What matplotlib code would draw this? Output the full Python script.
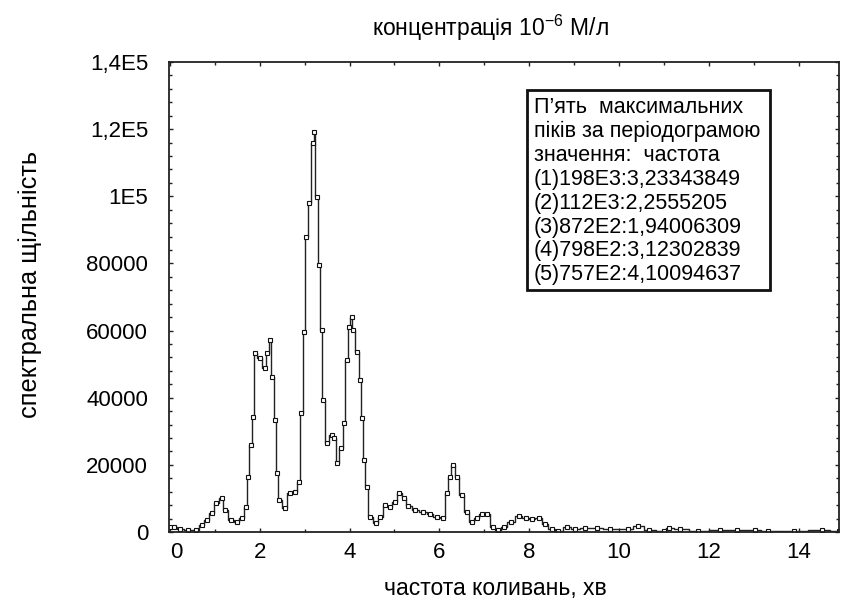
import matplotlib
matplotlib.use("Agg")
import matplotlib.pyplot as plt
from matplotlib.ticker import MultipleLocator, FixedLocator
from matplotlib.patches import Rectangle

plt.rcParams['font.family'] = ['Liberation Sans', 'DejaVu Sans']
plt.rcParams['mathtext.fontset'] = 'custom'
plt.rcParams['mathtext.rm'] = 'Liberation Sans'
plt.rcParams['mathtext.it'] = 'Liberation Sans'

# spectral density vs frequency
freq = [0.00, 0.10, 0.22, 0.40, 0.59, 0.71, 0.82, 0.93, 1.02, 1.15, 1.22, 1.35, 1.49, 1.60,
        1.69, 1.74, 1.80, 1.85, 1.89, 2.00, 2.12, 2.17, 2.23, 2.28, 2.34, 2.39, 2.43, 2.56,
        2.67, 2.78, 2.88, 2.93, 2.98, 3.04, 3.10, 3.19, 3.21, 3.27, 3.32, 3.38, 3.41, 3.49,
        3.60, 3.65, 3.73, 3.82, 3.88, 3.94, 3.99, 4.05, 4.08, 4.17, 4.23, 4.28, 4.33, 4.38,
        4.45, 4.59, 4.68, 4.79, 4.90, 5.01, 5.11, 5.21, 5.31, 5.46, 5.64, 5.79, 5.94, 6.09,
        6.16, 6.24, 6.30, 6.39, 6.50, 6.61, 6.72, 6.83, 6.94, 7.06, 7.20, 7.30, 7.44, 7.59,
        7.78, 7.92, 8.07, 8.21, 8.36, 8.50, 8.65, 8.84, 9.03, 9.25, 9.51, 9.80, 10.20, 10.43,
        10.67, 11.00, 11.11, 11.35, 11.75, 12.24, 12.63, 13.02, 13.31, 13.89, 14.52, 14.90]
density = [1600, 1400, 900, 500, 600, 2100, 3600, 5600, 8600, 10100, 6500, 3600, 3100, 4100,
           7500, 16500, 25900, 34300, 53200, 51800, 48800, 53200, 57200, 46300, 33400, 17600, 9500, 7100,
           11600, 12000, 15000, 35400, 59700, 88000, 97900, 115800, 119200, 99900, 79500, 60200, 39300, 26400,
           28900, 27900, 20500, 24900, 32400, 51200, 61200, 64100, 60200, 53700, 45300, 33900, 21400, 13500,
           4600, 2600, 4600, 8000, 7500, 9000, 11500, 10000, 7700, 6500, 6000, 5300, 4400, 4100,
           11500, 16500, 20000, 16500, 11000, 6000, 3100, 4100, 5300, 5300, 1600, 600, 1600, 3100,
           4800, 4100, 3800, 4300, 2400, 800, 300, 1600, 900, 1100, 1300, 1000, 1000, 1800,
           500, 300, 1200, 800, 300, 500, 600, 500, 200, 300, 500, 300]

ytick_vals = [0, 20000, 40000, 60000, 80000, 100000, 120000, 140000]
ytick_labels = ['0', '20000', '40000', '60000', '80000', '1E5', '1,2E5', '1,4E5']
xtick_vals = [0, 2, 4, 6, 8, 10, 12, 14]
xtick_labels = ['0', '2', '4', '6', '8', '10', '12', '14']

title = 'концентрація 10$^{-6}$ М/л'
xlabel = 'частота коливань, хв'
ylabel = 'спектральна щільність'
box_text = ("П’ять  максимальних\n"
            "піків за періодограмою\n"
            "значення:  частота\n"
            "(1)198E3:3,23343849\n"
            "(2)112E3:2,2555205\n"
            "(3)872E2:1,94006309\n"
            "(4)798E2:3,12302839\n"
            "(5)757E2:4,10094637")

W, H = 844, 608
fig = plt.figure(figsize=(W / 100, H / 100), dpi=100)
ax = fig.add_axes([169 / W, 1 - 532 / H, (839 - 169) / W, (532 - 62) / H])

ax.plot(freq, density, color='#222222', lw=1.0, drawstyle='steps-mid')
ax.plot(freq, density, ls='none', marker='s', ms=2.8, mfc='white', mec='#111111', mew=0.8)

ax.set_xlim(-0.02, 14.9)
ax.set_ylim(0, 140000)

ax.yaxis.set_major_locator(FixedLocator(ytick_vals))
ax.set_yticklabels(ytick_labels)
ax.yaxis.set_minor_locator(MultipleLocator(4000))
ax.xaxis.set_major_locator(FixedLocator(xtick_vals))
ax.set_xticklabels(xtick_labels)
ax.xaxis.set_minor_locator(MultipleLocator(1))

ax.tick_params(which='both', direction='in', top=True, right=True, width=1, color='#222222')
ax.tick_params(which='major', length=3, labelsize=16)
ax.tick_params(which='minor', length=2.5)
ax.tick_params(axis='y', which='major', pad=15)
ax.tick_params(axis='x', which='major', pad=7)
for s in ax.spines.values():
    s.set_linewidth(1.3)
    s.set_color('#222222')

xl = ax.get_xticklabels()
xl[0].set_horizontalalignment('left')

fig.text(490 / W, 1 - 28 / H, title, ha='center', va='center', fontsize=16.5)
fig.text(495 / W, 1 - 588 / H, xlabel, ha='center', va='center', fontsize=16.5)
fig.text(30 / W, 1 - 285 / H, ylabel, ha='center', va='center', rotation=90, fontsize=18.3)

fig.patches.append(Rectangle((527 / W, 1 - 290 / H), (770 - 527) / W, (290 - 90) / H,
                             transform=fig.transFigure, fc='white', ec='#111111', lw=2, zorder=5))
fig.text(534 / W, 1 - 97 / H, box_text, ha='left', va='top', fontsize=15.5,
         linespacing=1.18, zorder=6)

fig.savefig('out.png', dpi=100)
